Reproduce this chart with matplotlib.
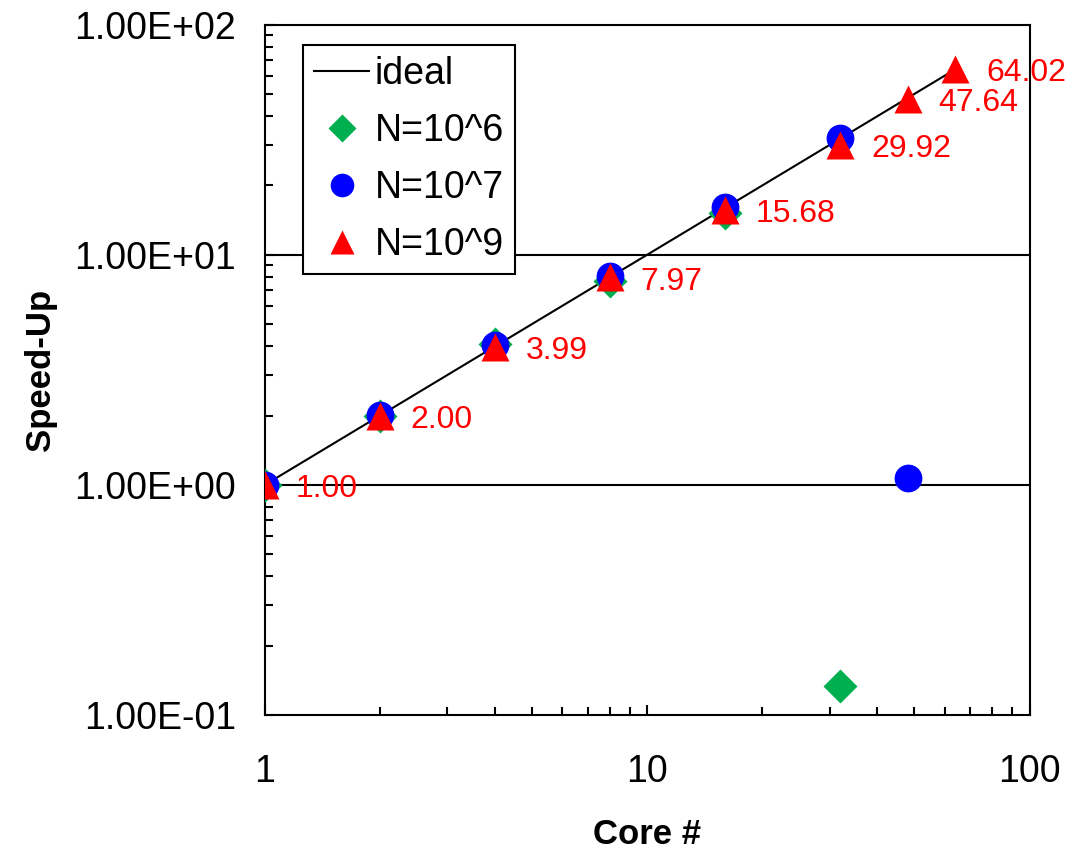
import matplotlib.pyplot as plt
from matplotlib.ticker import FuncFormatter, LogLocator, NullFormatter

plt.rcParams['font.family'] = ['Liberation Sans', 'DejaVu Sans']

# Data
cores_ideal = [1, 64]
cores_n6 = [1, 2, 4, 8, 16, 32]
speed_n6 = [1.0, 2.0, 4.1, 7.7, 15.2, 0.133]
cores_n7 = [1, 2, 4, 8, 16, 32, 48]
speed_n7 = [1.0, 2.02, 4.05, 8.1, 16.1, 32.0, 1.07]
cores_n9 = [1, 2, 4, 8, 16, 32, 48, 64]
speed_n9 = [1.00, 2.00, 3.99, 7.97, 15.68, 29.92, 47.64, 64.02]

fig = plt.figure(figsize=(10.86, 8.49), dpi=100)
ax = fig.add_axes([0.244, 0.158, 0.704, 0.813])

ax.plot(cores_ideal, cores_ideal, color='black', lw=1.5, label='ideal', zorder=2)
ax.plot(cores_n6, speed_n6, 'D', color='#00B050', ms=17, mec='none', label='N=10^6', zorder=3)
ax.plot(cores_n7, speed_n7, 'o', color='#0000FF', ms=20, mec='none', label='N=10^7', zorder=4)
ax.plot(cores_n9, speed_n9, '^', color='#FF0000', ms=20, mec='none', label='N=10^9', zorder=5)

# value labels for the N=10^9 series
for x, y in zip(cores_n9, speed_n9):
    ax.annotate(f'{y:.2f}', (x, y), xytext=(22, -3), textcoords='offset points',
                va='center', ha='left', color='#FF0000', fontsize=23, zorder=6)

for yv in [1, 10]:
    ax.axhline(yv, color='black', lw=1.5, zorder=1)

ax.set_xscale('log')
ax.set_yscale('log')
ax.set_xlim(1, 100)
ax.set_ylim(0.1, 100)

ax.yaxis.set_major_formatter(FuncFormatter(lambda v, p: f'{v:.2E}'))
ax.xaxis.set_major_formatter(FuncFormatter(lambda v, p: f'{v:g}'))
ax.xaxis.set_minor_locator(LogLocator(base=10, subs=range(2, 10)))
ax.yaxis.set_minor_locator(LogLocator(base=10, subs=range(2, 10)))
ax.xaxis.set_minor_formatter(NullFormatter())
ax.yaxis.set_minor_formatter(NullFormatter())

ax.tick_params(which='both', direction='in', labelsize=27, width=1.5)
ax.tick_params(which='major', length=7)
ax.tick_params(which='minor', length=6)
ax.tick_params(axis='x', which='major', pad=28)
ax.tick_params(axis='y', which='major', pad=21)
for s in ax.spines.values():
    s.set_linewidth(1.5)

ax.set_xlabel('Core #', fontsize=25, fontweight='bold', labelpad=20)
ax.set_ylabel('Speed-Up', fontsize=25, fontweight='bold', labelpad=12)

leg = ax.legend(loc='upper left', bbox_to_anchor=(0.05, 0.971), fontsize=27,
                frameon=True, fancybox=False, edgecolor='black', framealpha=1,
                handlelength=1.45, handletextpad=0.15, labelspacing=0.56,
                borderpad=0.3, borderaxespad=0, markerscale=0.85)
leg.get_frame().set_linewidth(1.5)

fig.savefig('out.png', dpi=100)
